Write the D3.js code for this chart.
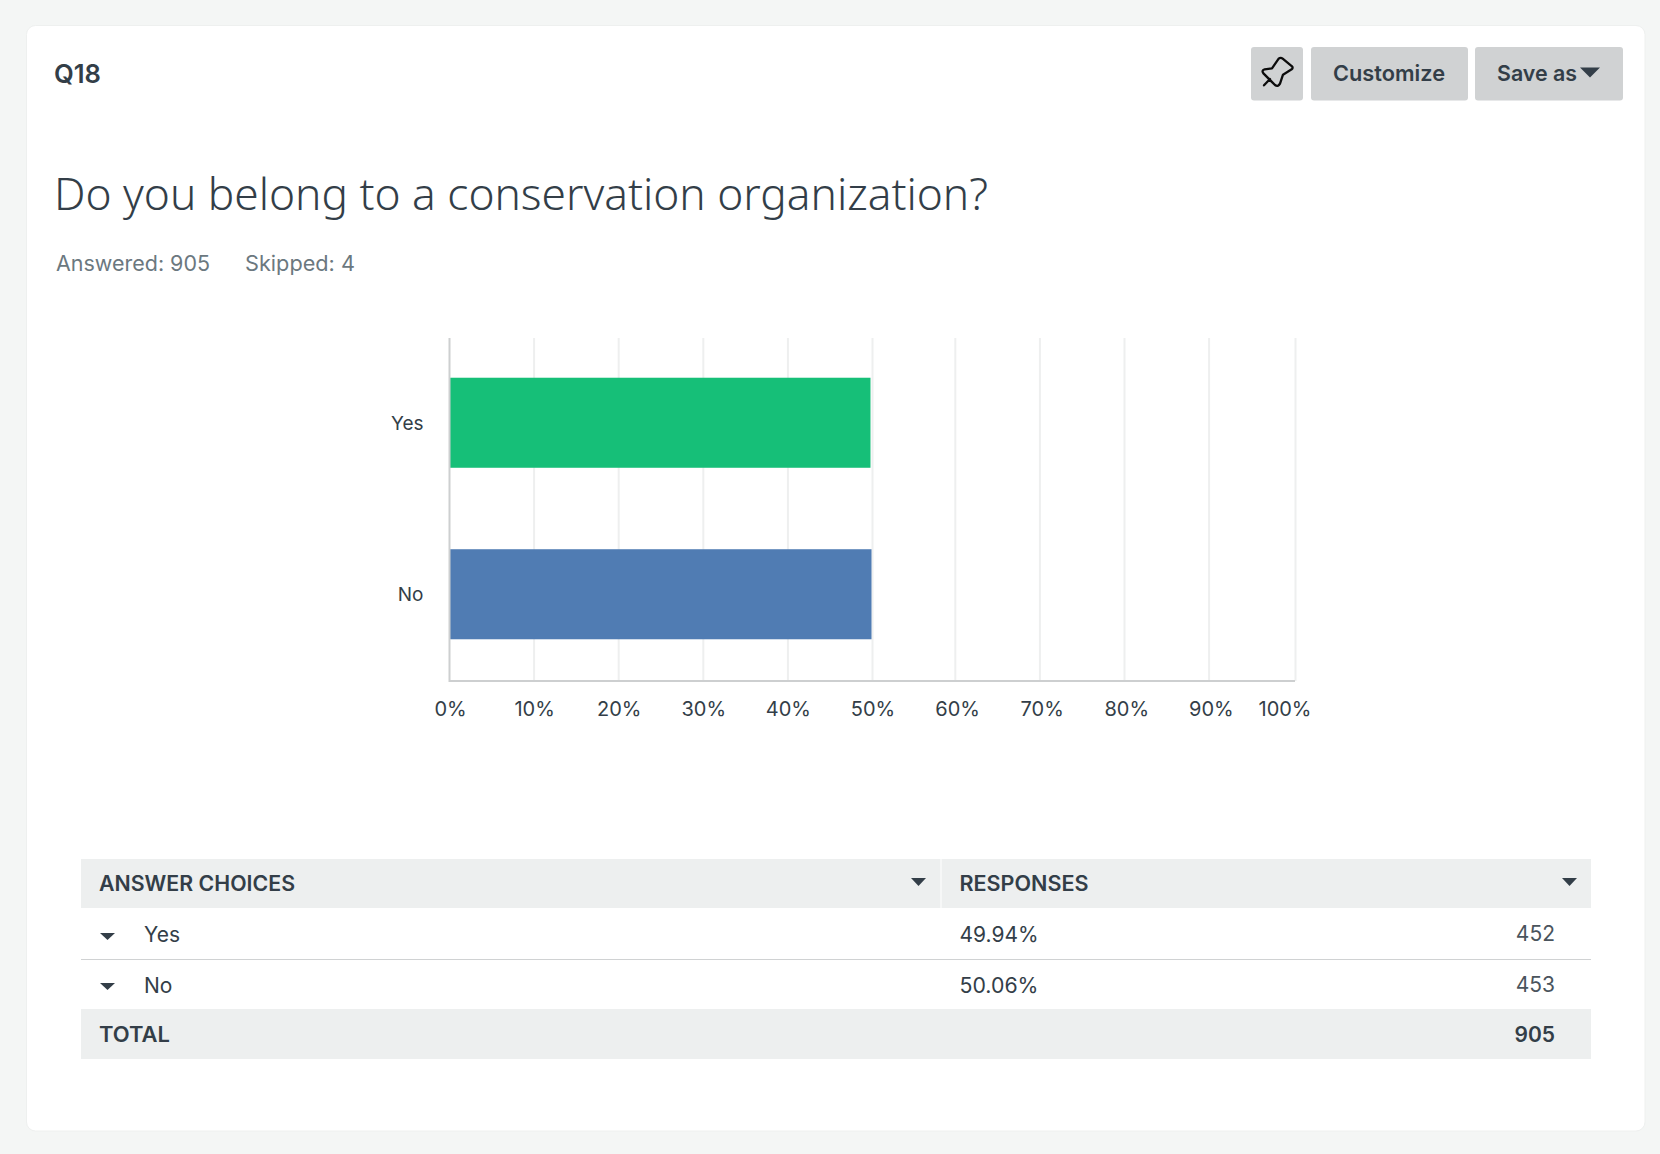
<!DOCTYPE html>
<html><head><meta charset="utf-8">
<script src="https://cdn.jsdelivr.net/npm/d3@7"></script>
<style>
html,body{margin:0;padding:0;background:#f4f6f5;overflow:hidden}
svg{display:block}
text{font-family:Inter,Roboto,sans-serif;fill:#333e48}
.light{font-family:"Noto Sans",sans-serif;font-weight:300}
.reg{font-family:Inter,sans-serif;font-weight:400}
.bold{font-family:Inter,sans-serif;font-weight:600}
</style></head><body>
<svg id="c" width="1660" height="1154"></svg>
<script>
const categories=["Yes","No"];
const percents=[49.94,50.06];
const counts=[452,453];
const barColors=["#16bf78","#507cb3"];
const tickValues=[0,10,20,30,40,50,60,70,80,90,100];
const totalCount=905, skippedCount=4;
const questionId="Q18";
const questionTitle="Do you belong to a conservation organization?";
const ink="#333e48";

const svg=d3.select("#c");
svg.append("rect").attr("width",1660).attr("height",1154).attr("fill","#f4f6f5");
svg.append("rect").attr("x",26.5).attr("y",25.5).attr("width",1618.5).attr("height",1105.5).attr("rx",9)
  .attr("fill","#fff").attr("stroke","#eef0ef").attr("stroke-width",1);

function T(cls,x,y,size,str,o={}){
  const t=svg.append("text").attr("class",cls).attr("x",x).attr("y",y).attr("font-size",size).text(str);
  if(o.anchor)t.attr("text-anchor",o.anchor);
  if(o.fill)t.style("fill",o.fill);
  if(o.w){t.attr("textLength",o.w).attr("lengthAdjust","spacingAndGlyphs");}
  return t;
}
function tri(cx,ty,w,h,fill=ink){
  svg.append("path").attr("d",d3.line()([[cx-w/2,ty],[cx+w/2,ty],[cx,ty+h]])+"Z").attr("fill",fill);
}

// header
T("bold",54,83,26,questionId,{w:47});
T("light",54,210,44,questionTitle,{w:934});
T("reg",56,271,21,"Answered: "+totalCount,{fill:"#6b787f",w:154});
T("reg",245,271,21,"Skipped: "+skippedCount,{fill:"#6b787f",w:110});

// buttons
[[1251,52],[1311,157],[1475,148]].forEach(([x,w])=>svg.append("rect").attr("x",x).attr("y",47).attr("width",w).attr("height",53.5).attr("rx",3).attr("fill","#d0d2d3"));
T("bold",1333,81,22,"Customize",{w:112});
T("bold",1497,81,22,"Save as",{w:80});
tri(1590,67.5,20,10);
const px=v=>1250+v/3, py=v=>45+v/3;
svg.append("path").attr("fill","none").attr("stroke","#0c0c0c").attr("stroke-width",2.3).attr("stroke-linejoin","round").attr("stroke-linecap","round")
 .attr("d",`M${px(86)},${py(41)} Q${px(92)},${py(36)} ${px(98)},${py(41)} L${px(126)},${py(64)} Q${px(130)},${py(69)} ${px(125)},${py(73)} L${px(99)},${py(89)} L${px(90)},${py(116)} Q${px(84)},${py(127)} ${px(75)},${py(120)} L${px(41)},${py(86)} Q${px(33)},${py(76)} ${px(44)},${py(73)} L${px(66)},${py(70)} Z M${px(60)},${py(102)} L${px(42)},${py(121)}`);

// chart
const xScale=d3.scaleLinear().domain([0,100]).range([449.5,1295.5]);
const yScale=d3.scaleBand().domain(categories).range([337,680]).paddingInner(.475).paddingOuter(.2375);
const yTop=338,yBot=681;
const xAxis=d3.axisBottom(xScale).tickValues(tickValues).tickFormat(d=>d+"%").tickSize(0).tickPadding(0);
const gx=svg.append("g").attr("transform",`translate(0,${yBot})`).call(xAxis);
gx.select(".domain").remove();
gx.selectAll(".tick text").attr("class","reg").attr("font-size",20).attr("y",35).attr("dy",0)
  .attr("dx",d=>d===100?-11:d===0?0.5:0).style("font-family","Inter").style("fill",ink);
svg.append("g").selectAll("line").data(tickValues.slice(1)).join("line")
  .attr("x1",d=>xScale(d)-(d>50&&d<100?1.8:0)).attr("x2",d=>xScale(d)-(d>50&&d<100?1.8:0)).attr("y1",yTop).attr("y2",yBot).attr("stroke","#eeefef").attr("stroke-width",2);
const yAxis=d3.axisLeft(yScale).tickSize(0).tickPadding(0);
const gy=svg.append("g").attr("transform","translate(423.5,0)").call(yAxis);
gy.select(".domain").remove();
gy.selectAll(".tick text").attr("class","reg").attr("font-size",19).attr("dy",7).style("font-family","Inter").style("fill",ink);
svg.selectAll(".bar").data(categories).join("rect").attr("class","bar")
  .attr("x",xScale(0)+.5).attr("y",d=>yScale(d)).attr("height",yScale.bandwidth())
  .attr("width",(d,i)=>xScale(percents[i])-xScale(0)-2)
  .attr("fill",(d,i)=>barColors[i]);
svg.append("line").attr("x1",449.5).attr("x2",449.5).attr("y1",yTop).attr("y2",yBot+1).attr("stroke","#cdcfd0").attr("stroke-width",2);
svg.append("line").attr("x1",449).attr("x2",1295).attr("y1",yBot).attr("y2",yBot).attr("stroke","#cdcfd0").attr("stroke-width",2);

// table
const tx=81,tw=1510;
svg.append("rect").attr("x",tx).attr("y",859).attr("width",tw).attr("height",49).attr("fill","#edefef");
svg.append("rect").attr("x",940.5).attr("y",859).attr("width",1).attr("height",49).attr("fill","#fff");
svg.append("rect").attr("x",tx).attr("y",1009).attr("width",tw).attr("height",50).attr("fill","#edefef");
svg.append("rect").attr("x",tx).attr("y",959).attr("width",tw).attr("height",1).attr("fill","#d0d2d3");
T("bold",99,891,21,"ANSWER CHOICES",{w:196});
T("bold",959.5,891,21,"RESPONSES",{w:129});
tri(918.5,878,15,8); tri(1569.5,878,15,8);
const rowBase=[942,993], triTop=[933,983];
categories.forEach((c,i)=>{
  tri(107.5,triTop[i],15,7);
  T("reg",144,rowBase[i],21,c);
  T("reg",959.5,rowBase[i],21,percents[i].toFixed(2)+"%",{w:79});
  T("reg",1555,rowBase[i]-1,21,String(counts[i]),{anchor:"end",fill:"#4a545d"});
});
T("bold",99,1042,21,"TOTAL",{w:71});
T("bold",1555,1042,21,String(totalCount),{anchor:"end"});
</script>
</body></html>
